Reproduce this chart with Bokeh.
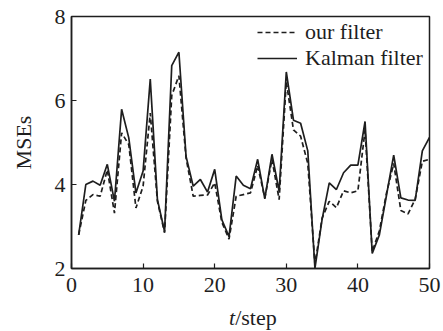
from bokeh.plotting import figure
from bokeh.layouts import column
from bokeh.models import Range1d, Legend, LegendItem, FixedTicker, Div
from bokeh.embed import file_html
from bokeh.resources import INLINE

steps = list(range(1, 51))
kalman = [2.8, 4.0, 4.08, 3.98, 4.48, 3.6, 5.79, 5.11, 3.8, 4.32,
          6.51, 3.64, 2.88, 6.83, 7.15, 4.67, 3.96, 4.12, 3.82, 4.36,
          3.16, 2.76, 4.2, 3.98, 3.9, 4.6, 3.66, 4.72, 3.84, 6.68,
          5.53, 5.46, 4.8, 2.0, 3.17, 4.04, 3.88, 4.28, 4.46, 4.46,
          5.5, 2.36, 2.8, 3.75, 4.7, 3.68, 3.63, 3.62, 4.8, 5.12]
ours = [2.8, 3.62, 3.76, 3.72, 4.35, 3.32, 5.23, 4.95, 3.44, 3.96,
        5.7, 3.6, 2.85, 6.12, 6.59, 4.63, 3.72, 3.74, 3.75, 4.04,
        3.1, 2.7, 3.72, 3.76, 3.8, 4.45, 3.68, 4.6, 3.64, 6.45,
        5.3, 5.15, 4.5, 2.1, 3.2, 3.6, 3.45, 3.85, 3.8, 3.85,
        5.3, 2.4, 2.9, 3.8, 4.5, 3.38, 3.3, 3.65, 4.55, 4.6]
xticks = [0, 10, 20, 30, 40, 50]
yticks = [2, 4, 6, 8]

FONT = "Liberation Serif"
INK = "#1e1e1e"

p = figure(width=443, height=300, output_backend="svg", toolbar_location=None,
           x_range=Range1d(0, 50), y_range=Range1d(2, 8),
           min_border_left=71, min_border_right=14, min_border_top=16, min_border_bottom=32)
p.background_fill_color = "white"
p.border_fill_color = "white"
p.outline_line_color = INK
p.outline_line_width = 1.5
p.xgrid.visible = False
p.ygrid.visible = False

r1 = p.line(steps, ours, line_color=INK, line_width=1.7, line_dash="5 3")
r2 = p.line(steps, kalman, line_color=INK, line_width=1.7)

for ax in (p.xaxis[0], p.yaxis[0]):
    ax.axis_line_color = INK
    ax.axis_line_width = 1.5
    ax.major_tick_in = 5
    ax.major_tick_out = 0
    ax.minor_tick_line_color = None
    ax.major_tick_line_color = INK
    ax.major_tick_line_width = 1.2
    ax.major_label_text_font = FONT
    ax.major_label_text_font_size = "22px"
    ax.major_label_text_color = INK

p.xaxis.ticker = FixedTicker(ticks=xticks)
p.yaxis.ticker = FixedTicker(ticks=yticks)
p.xaxis.major_label_standoff = 9
p.yaxis.major_label_standoff = 6

p.yaxis.axis_label = "MSEs"
p.yaxis.axis_label_text_font = FONT
p.yaxis.axis_label_text_font_style = "normal"
p.yaxis.axis_label_text_font_size = "22px"
p.yaxis.axis_label_text_color = INK
p.yaxis.axis_label_standoff = 16

legend = Legend(items=[LegendItem(label="our filter", renderers=[r1]),
                       LegendItem(label="Kalman filter", renderers=[r2])],
                location=(186, 197))
legend.label_text_font = FONT
legend.label_text_font_size = "22px"
legend.label_text_color = INK
legend.border_line_color = None
legend.background_fill_alpha = 0
legend.glyph_width = 40
legend.glyph_height = 24
legend.label_height = 24
legend.label_standoff = 8
legend.spacing = 0
legend.padding = 0
legend.margin = 0
p.add_layout(legend)

xlabel = Div(
    text=('<div style="width:443px;height:29px;box-sizing:border-box;padding-left:224px;'
          'padding-top:2px;font-family:\'Liberation Serif\';font-size:22px;line-height:22px;'
          'color:#1e1e1e;white-space:nowrap;"><i>t</i>/step</div>'),
    width=443, height=29)

layout = column(p, xlabel, spacing=0)

html = file_html(layout, INLINE)
html = html.replace("<head>", "<head><style>html,body{margin:0;padding:0;overflow:hidden;}</style>", 1)
open("out.html", "w").write(html)
